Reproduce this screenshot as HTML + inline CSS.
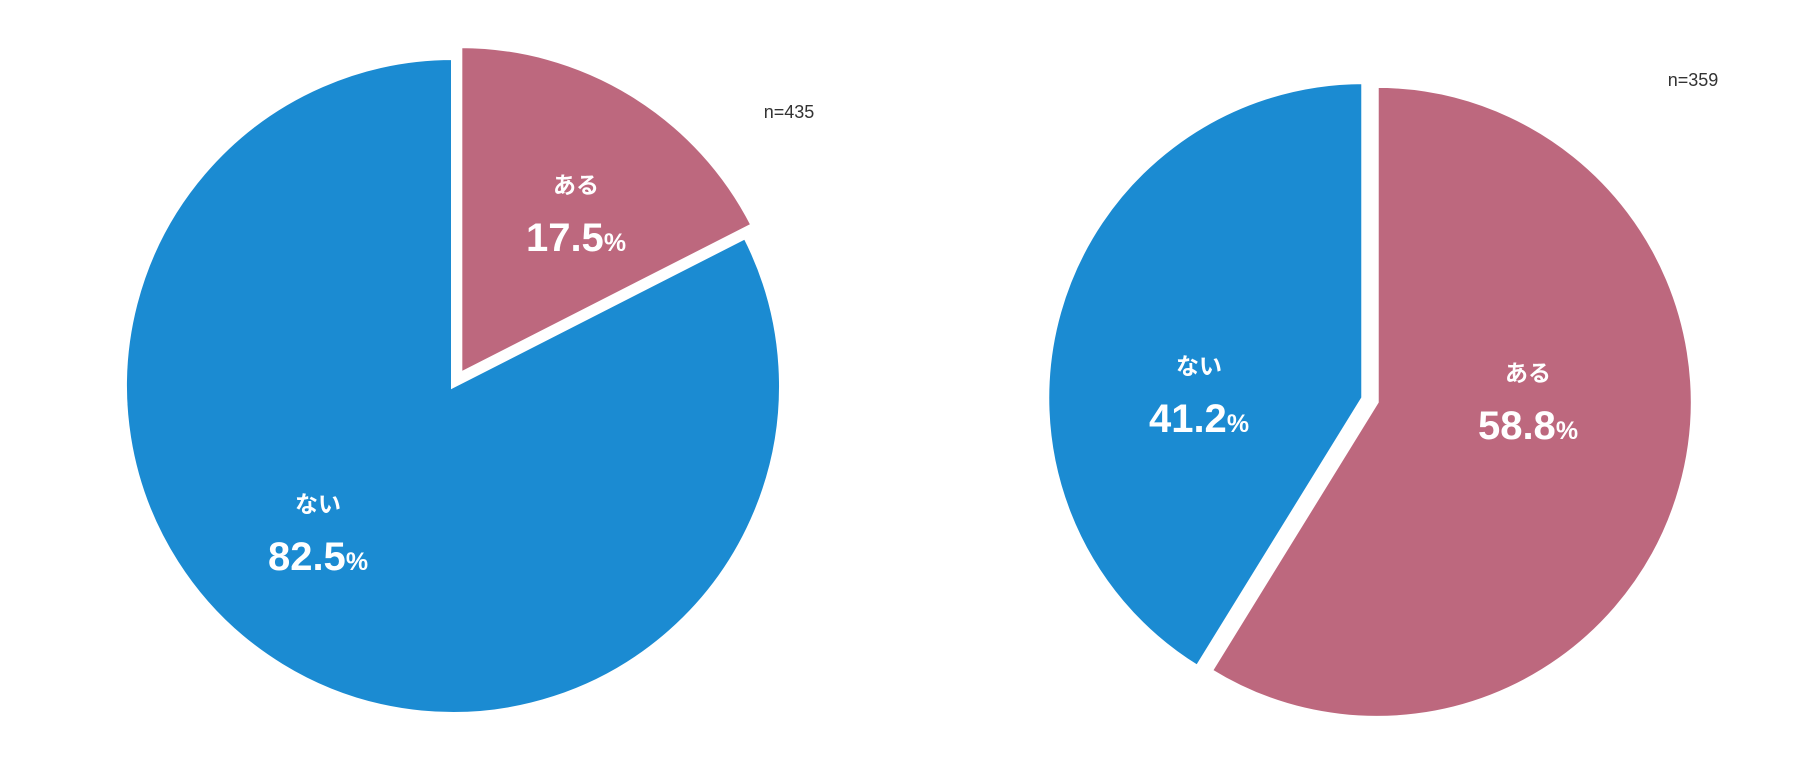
<!DOCTYPE html>
<html><head><meta charset="utf-8"><style>
html,body{margin:0;padding:0;background:#fff;}
svg{display:block;font-family:"Liberation Sans","Noto Sans CJK JP",sans-serif;}
</style></head><body>
<svg id="chart" width="1806" height="760" viewBox="0 0 1806 760"></svg>
<script>
const categories = ["ある","ない"];
const leftValues = [17.5, 82.5];
const rightValues = [58.8, 41.2];
const sampleLabels = ["n=435","n=359"];
const colors = {"ある":"#bd687e","ない":"#1b8bd2"};

const NS="http://www.w3.org/2000/svg";
const svg=document.getElementById('chart');
function mk(t,a){const e=document.createElementNS(NS,t);for(const k in a)e.setAttribute(k,a[k]);svg.appendChild(e);return e;}

function drawPie(values, cx, cy, r, explode, labelPos, nLabel, nx, ny, idx){
  const total=values.reduce((a,b)=>a+b,0);
  let start=0;
  values.forEach((v,i)=>{
    const a0=start/total*2*Math.PI, a1=(start+v)/total*2*Math.PI, am=(a0+a1)/2;
    start+=v;
    const ex=explode[i];
    const ox=cx+ex*Math.sin(am), oy=cy-ex*Math.cos(am);
    const x0=ox+r*Math.sin(a0), y0=oy-r*Math.cos(a0);
    const x1=ox+r*Math.sin(a1), y1=oy-r*Math.cos(a1);
    const large=(a1-a0)>Math.PI?1:0;
    const p=mk('path',{d:`M${ox},${oy} L${x0},${y0} A${r},${r} 0 ${large} 1 ${x1},${y1} Z`,fill:colors[categories[i]],stroke:'#fff','stroke-width':4,'stroke-linejoin':'miter'});
    
    
    const lx=labelPos[i][0], ly=labelPos[i][1];
    const t1=mk('text',{x:lx,y:ly+9,'text-anchor':'middle',fill:'#fff','font-size':23,'font-weight':'bold'});
    t1.textContent=categories[i];
    
    
    const t2=mk('text',{x:lx,y:ly+67,'text-anchor':'middle',fill:'#fff','font-size':40,'font-weight':'bold'});
    
    
    t2.textContent=v.toFixed(1);
    const sp=document.createElementNS(NS,'tspan');sp.setAttribute('font-size','25');sp.textContent='%';t2.appendChild(sp);
  });
  const n=mk('text',{x:nx,y:ny,'text-anchor':'middle',fill:'#333','font-size':18});
  n.textContent=nLabel;
  
  
}
drawPie(leftValues,453,386,328,[14,0],[[576,184],[318,503]],sampleLabels[0],789,118,0);
drawPie(rightValues,1370,400,316,[7,7],[[1528,372],[1199,365]],sampleLabels[1],1693,86,1);
</script>
</body></html>
